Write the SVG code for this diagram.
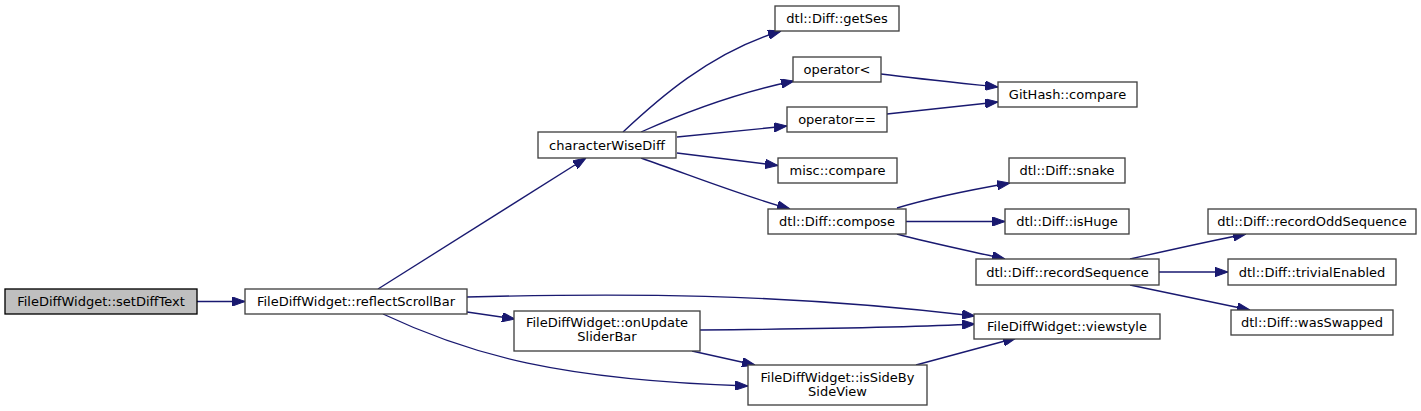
<svg xmlns="http://www.w3.org/2000/svg" width="1421" height="411" viewBox="0 0 1421 411">
<style>
.n rect{fill:#ffffff;stroke:#404040;stroke-width:1.33}
.n.root rect{fill:#bfbfbf;stroke:#000000}
.n text{font-family:"DejaVu Sans",sans-serif;font-size:13px;fill:#000000;text-anchor:middle}
.e path{fill:none;stroke:#191970;stroke-width:1.33;marker-end:url(#arr)}
</style>
<defs>
<marker id="arr" viewBox="0 0 13 9.4" refX="13" refY="4.7" markerWidth="13" markerHeight="9.4" orient="auto" markerUnits="userSpaceOnUse">
<path d="M0,0 L13,4.7 L0,9.4 z" fill="#191970" stroke="#191970" stroke-width="1"/>
</marker>
</defs>
<rect width="1421" height="411" fill="#ffffff"/>
<g id="edges" class="e">
<path d="M197,301.5 L245,301.5"/>
<path d="M378,289 L586,158"/>
<path d="M467,297 C620,293 780,293 975,316"/>
<path d="M467,312 L515,319"/>
<path d="M383,314 C470,355 560,380 748,386"/>
<path d="M623,132 C655,102 710,52 781,31"/>
<path d="M641,132 C690,110 740,92 794,81"/>
<path d="M677,137 L787,126"/>
<path d="M677,153 L778,165.5"/>
<path d="M641,158 C690,175 740,195 790,209"/>
<path d="M881,74 C920,79 960,83 998,87"/>
<path d="M887,114 L998,102"/>
<path d="M897,208 C930,198 970,190 1010,183"/>
<path d="M906,221.5 L1005,221.5"/>
<path d="M897,234 C930,243 970,251 1005,259"/>
<path d="M1130,259 C1170,250 1210,241 1246,234"/>
<path d="M1159,272 L1228,272"/>
<path d="M1130,285 C1170,293 1210,302 1250,310"/>
<path d="M700,330 C800,329 900,328 975,324"/>
<path d="M692,351 L755,365"/>
<path d="M916,365 L1016,338"/>
</g>
<g id="node-setDiffText" class="n root"><rect x="5" y="289" width="192" height="25"/><text x="101" y="306">FileDiffWidget::setDiffText</text></g>
<g id="node-reflectScrollBar" class="n"><rect x="245" y="289" width="222" height="25"/><text x="356" y="306">FileDiffWidget::reflectScrollBar</text></g>
<g id="node-characterWiseDiff" class="n"><rect x="538" y="132" width="138" height="26"/><text x="607" y="149.5">characterWiseDiff</text></g>
<g id="node-getSes" class="n"><rect x="775" y="6" width="124" height="25"/><text x="837" y="23">dtl::Diff::getSes</text></g>
<g id="node-operatorLt" class="n"><rect x="793" y="57" width="88" height="25"/><text x="837" y="74">operator&lt;</text></g>
<g id="node-operatorEq" class="n"><rect x="787" y="107" width="100" height="25"/><text x="837" y="124">operator==</text></g>
<g id="node-miscCompare" class="n"><rect x="778" y="158" width="119" height="25"/><text x="837.5" y="175">misc::compare</text></g>
<g id="node-compose" class="n"><rect x="768" y="209" width="138" height="25"/><text x="837" y="226">dtl::Diff::compose</text></g>
<g id="node-onUpdateSliderBar" class="n"><rect x="514" y="311" width="186" height="40"/><text x="607" y="327">FileDiffWidget::onUpdate</text><text x="607" y="341">SliderBar</text></g>
<g id="node-isSideBySideView" class="n"><rect x="748" y="365" width="179" height="40"/><text x="837.5" y="381.5">FileDiffWidget::isSideBy</text><text x="837.5" y="395.5">SideView</text></g>
<g id="node-gitHashCompare" class="n"><rect x="998" y="82" width="139" height="25"/><text x="1067.5" y="99">GitHash::compare</text></g>
<g id="node-snake" class="n"><rect x="1009" y="158" width="116" height="25"/><text x="1067" y="175">dtl::Diff::snake</text></g>
<g id="node-isHuge" class="n"><rect x="1005" y="209" width="124" height="25"/><text x="1067" y="226">dtl::Diff::isHuge</text></g>
<g id="node-recordSequence" class="n"><rect x="976" y="259" width="183" height="26"/><text x="1067.5" y="276.5">dtl::Diff::recordSequence</text></g>
<g id="node-viewstyle" class="n"><rect x="974" y="314" width="186" height="25"/><text x="1067" y="331">FileDiffWidget::viewstyle</text></g>
<g id="node-recordOddSequence" class="n"><rect x="1208" y="209" width="208" height="25"/><text x="1312" y="226">dtl::Diff::recordOddSequence</text></g>
<g id="node-trivialEnabled" class="n"><rect x="1228" y="259" width="168" height="26"/><text x="1312" y="276.5">dtl::Diff::trivialEnabled</text></g>
<g id="node-wasSwapped" class="n"><rect x="1231" y="310" width="162" height="25"/><text x="1312" y="327">dtl::Diff::wasSwapped</text></g>
</svg>
